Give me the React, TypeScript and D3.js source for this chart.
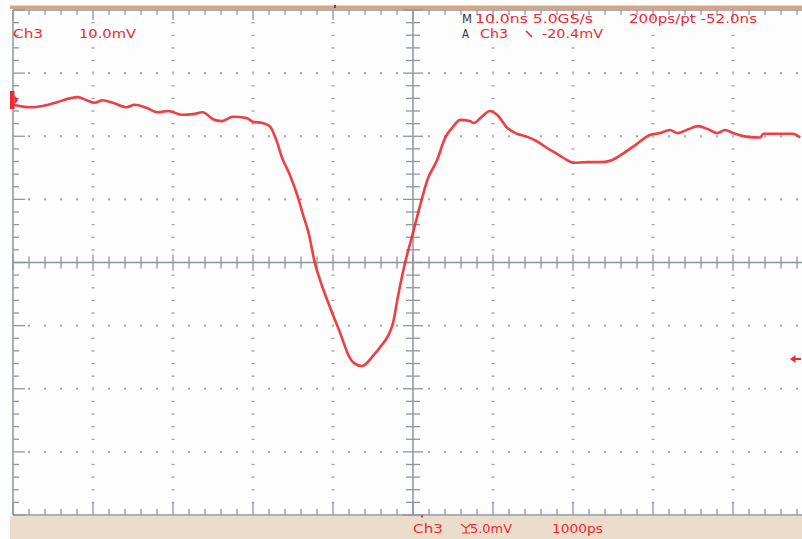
import React from "react";
import * as d3 from "d3";

// Ch3 trace: time in ns from trigger, level in mV from centre line
const timeNs = [
  -50, -47.9, -46.3, -44.5, -42.9, -41.9, -40.8, -39.8, -38.8, -37.5, -35.8, -34.8,
  -33.3, -31.9, -30.6, -28.9, -27.5, -26.3, -25, -23.9, -22.5, -20.8, -20, -18.8,
  -17.9, -17, -16.4, -15.4, -14.4, -13.8, -13, -12.3, -11.4, -10.4, -9.1, -7.9, -7.4, -6.4,
  -5, -4.1, -2.5, -1.9, -1, 0, 0.9, 1.8, 3, 4, 5, 5.9, 7.1, 7.6, 8.6, 9.6, 10.5,
  11.8, 13, 14.3, 15.5, 16.8, 18, 19.3, 20, 21.8, 23.4, 24.6, 26.3, 28, 29.6, 30.9,
  32.1, 33.1, 34.4, 35.6, 36.9, 38, 39, 40, 41.8, 43.4, 43.8, 45.9, 47.5, 48.4,
];
const ch3mV = [
  25.0, 24.6, 24.8, 25.4, 26.0, 26.2, 25.7, 25.3, 25.7, 25.3, 24.6, 25.0,
  24.5, 23.8, 24.0, 23.4, 23.5, 23.8, 22.7, 22.4, 23.1, 22.9, 22.3, 22.1,
  21.6, 19.1, 16.7, 13.9, 10.4, 7.8, 4.4, 0.1, -3.6, -7.0, -11.2, -15.1, -15.9, -16.4,
  -14.8, -13.4, -9.6, -5.5, -0.1, 4.7, 9.1, 13.1, 16.2, 19.7, 21.5, 22.6, 22.4, 22.1, 23.1, 24.0, 23.4,
  21.3, 20.4, 19.9, 19.2, 18.1, 17.2, 16.2, 15.8, 15.9, 15.9, 16.1, 17.3, 18.8, 20.2, 20.5,
  21.0, 20.5, 21.1, 21.6, 21.1, 20.5, 21.0, 20.5, 19.9, 19.8, 20.4, 20.4, 20.4, 19.8,
];

const timeDomain = [-50, 50];
const voltDomain = [-40, 40];

const topReadout = ["Ch3", "10.0mV"];
const timebase = ["M", "10.0ns 5.0GS/s", "200ps/pt -52.0ns"];
const triggerReadout = ["A", "Ch3", "-20.4mV"];
const bottomReadout = ["Ch3", "5.0mV", "1000ps"];

const GRID = "#8d95a5";
const DOT = "#a2a2a6";
const RED = "#ee2a2e";
const FONT = "'DejaVu Sans', 'Liberation Sans', sans-serif";

export default function App() {
  const x = d3.scaleLinear().domain(timeDomain).range([13, 813]);
  const y = d3.scaleLinear().domain(voltDomain).range([515, 10]);

  const xMinor = d3.range(-50, 50.01, 2);
  const xMajor = d3.range(-50, 50.01, 10);
  const yMinor = d3.range(-40, 40.01, 2);
  const yMajor = d3.range(-40, 40.01, 10);

  const line = d3
    .line<number>()
    .x((d, i) => x(timeNs[i]))
    .y((d) => y(d))
    .curve(d3.curveMonotoneX);

  const isMajorX = (t: number) => Math.abs(t % 10) < 0.01;
  const isMajorY = (v: number) => Math.abs(v % 10) < 0.01;

  const top = y(40);
  const bottom = y(-40);
  const left = x(-50);
  const cx = x(0);
  const cy = y(0);

  return (
    <svg
      width={802}
      height={539}
      style={{ position: "absolute", left: 0, top: 0, background: "#fdfdfd", display: "block" }}
    >
      {/* bands */}
      <rect x={10} y={5.5} width={792} height={3.5} fill="#d4a681" />
      <rect x={10} y={516} width={792} height={23} fill="#ecdccb" />

      {/* dotted major grid lines */}
      {xMajor
        .filter((t) => t !== 0 && t !== -50 && t !== 50)
        .map((t) =>
          yMinor
            .filter((v) => v !== -40 && v !== 40 && !isMajorY(v))
            .map((v) => (
              <rect key={`vd${t}_${v}`} x={x(t) - 1.5} y={y(v) - 0.6} width={3} height={1.3} fill={DOT} />
            ))
        )}
      {yMajor
        .filter((v) => v !== 0 && v !== -40 && v !== 40)
        .map((v) =>
          xMinor
            .filter((t) => t !== -50 && t !== 50 && t !== 0)
            .map((t) =>
              isMajorX(t) ? (
                <rect key={`hd${v}_${t}`} x={x(t) - 0.7} y={y(v) - 1.5} width={1.4} height={3} fill={DOT} />
              ) : (
                <rect key={`hd${v}_${t}`} x={x(t) - 1} y={y(v) - 1} width={2} height={2} fill={DOT} />
              )
            )
        )}

      {/* border */}
      <line x1={left} x2={802} y1={top} y2={top} stroke={GRID} strokeWidth={1.5} />
      <line x1={left} x2={802} y1={bottom} y2={bottom} stroke={GRID} strokeWidth={1.5} />
      <line x1={left} x2={left} y1={top} y2={bottom} stroke={GRID} strokeWidth={1.5} />

      {/* border ticks */}
      {xMinor.map((t) => (
        <g key={`bt${t}`}>
          <line x1={x(t)} x2={x(t)} y1={top} y2={top + (isMajorX(t) ? 10 : 5)} stroke={GRID} strokeWidth={1.3} />
          <line x1={x(t)} x2={x(t)} y1={bottom} y2={bottom - (isMajorX(t) ? 13 : 6)} stroke={GRID} strokeWidth={1.3} />
        </g>
      ))}
      {yMinor.map((v) => (
        <line key={`lt${v}`} x1={left} x2={left + (isMajorY(v) ? 12 : 6)} y1={y(v)} y2={y(v)} stroke={GRID} strokeWidth={1.3} />
      ))}

      {/* centre cross */}
      <line x1={left} x2={802} y1={cy} y2={cy} stroke={GRID} strokeWidth={1.5} />
      <line x1={cx} x2={cx} y1={top} y2={bottom} stroke={GRID} strokeWidth={1.5} />
      {xMinor.map((t) => (
        <line key={`ct${t}`} x1={x(t)} x2={x(t)} y1={cy - (isMajorX(t) ? 8 : 6)} y2={cy + (isMajorX(t) ? 8 : 6)} stroke={GRID} strokeWidth={1.3} />
      ))}
      {yMinor.map((v) => (
        <line key={`cv${v}`} x1={cx - (isMajorY(v) ? 10 : 7)} x2={cx + (isMajorY(v) ? 10 : 7)} y1={y(v)} y2={y(v)} stroke={GRID} strokeWidth={1.3} />
      ))}

      {/* trace */}
      <path d={line(ch3mV) || ""} fill="none" stroke={RED} strokeWidth={2.6} strokeLinejoin="round" opacity={0.9} />

      {/* markers */}
      <rect x={10} y={91} width={4.5} height={18} fill={RED} />
      <path d="M14.5,95 L18,100 L14.5,105 Z" fill={RED} />
      <path d="M790,359 L795.5,355 L795.5,363 Z M795,358 L801,358 L801,360 L795,360 Z" fill={RED} />
      <rect x={421} y={515.5} width={2} height={2} fill={RED} />
      <rect x={334} y={5} width={2} height={3} fill="#555" />

      {/* readouts */}
      <g fontFamily={FONT} fontSize={12} fill={RED}>
        <text x={13} y={38} textLength={30} lengthAdjust="spacingAndGlyphs">{topReadout[0]}</text>
        <text x={79} y={38} textLength={57} lengthAdjust="spacingAndGlyphs">{topReadout[1]}</text>

        <text x={462} y={23} fill="#333" textLength={10} lengthAdjust="spacingAndGlyphs">{timebase[0]}</text>
        <text x={475} y={23} textLength={118} lengthAdjust="spacingAndGlyphs">{timebase[1]}</text>
        <text x={629} y={23} textLength={128} lengthAdjust="spacingAndGlyphs">{timebase[2]}</text>

        <text x={462} y={38} fill="#333" textLength={7} lengthAdjust="spacingAndGlyphs">{triggerReadout[0]}</text>
        <text x={480} y={38} textLength={28} lengthAdjust="spacingAndGlyphs">{triggerReadout[1]}</text>
        <text x={542} y={38} textLength={61} lengthAdjust="spacingAndGlyphs">{triggerReadout[2]}</text>

        <text x={413} y={533} textLength={30} lengthAdjust="spacingAndGlyphs">{bottomReadout[0]}</text>
        <text x={470} y={533} textLength={42} lengthAdjust="spacingAndGlyphs">{bottomReadout[1]}</text>
        <text x={552} y={533} textLength={51} lengthAdjust="spacingAndGlyphs">{bottomReadout[2]}</text>
      </g>
      <path d="M526,31 L532,37" stroke={RED} strokeWidth={1.6} />
      <path d="M461,524 L466,528 L471,524 M466,528 L466,533 M462,533 L470,533" stroke={RED} strokeWidth={1.2} fill="none" />
    </svg>
  );
}
